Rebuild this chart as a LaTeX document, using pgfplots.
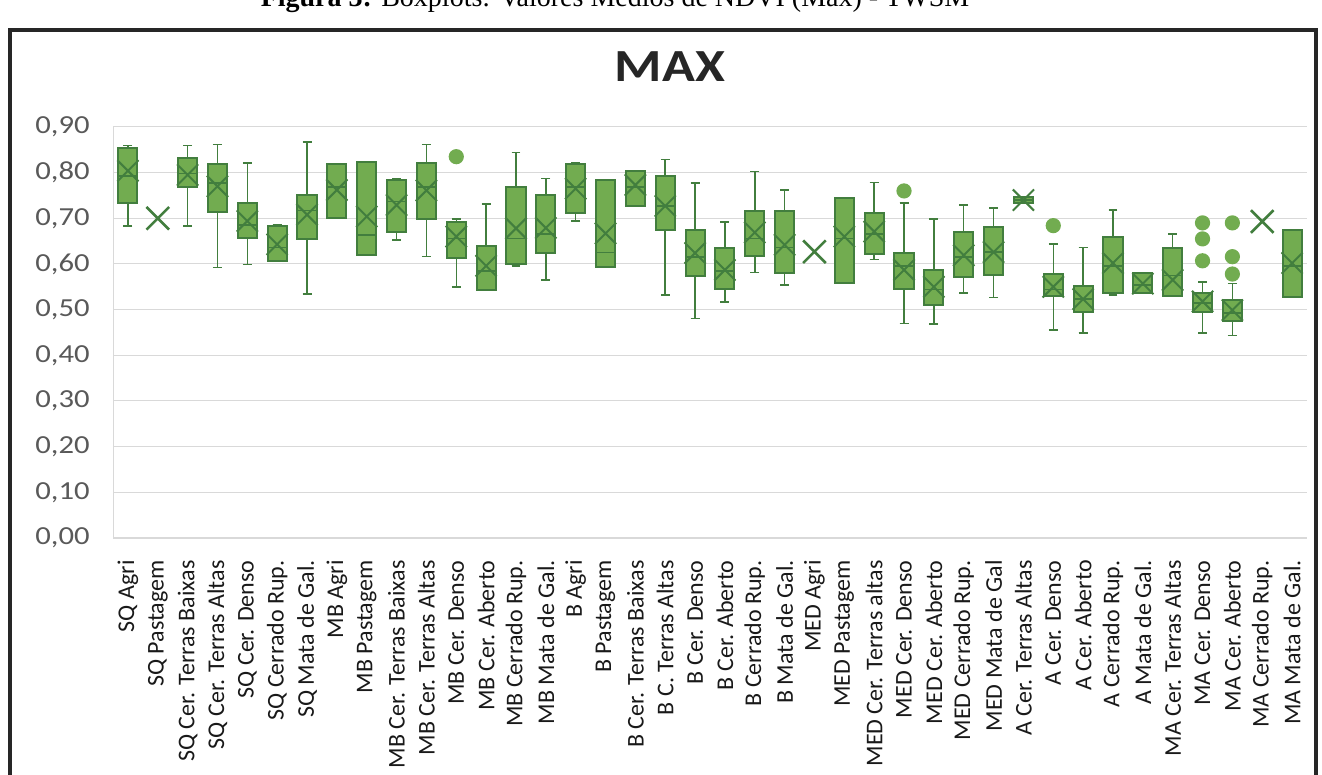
\documentclass[border=0pt]{standalone}
\usepackage{fontspec}
\setmainfont{Carlito}
\newfontfamily\wide[FakeStretch=1.18]{Carlito}
\newfontfamily\capfont{Liberation Serif}
\usepackage{pgfplots}
\pgfplotsset{compat=1.18}
\usepgfplotslibrary{statistics}
\definecolor{bg}{RGB}{114,172,80}
\definecolor{dg}{RGB}{66,126,62}
\definecolor{tickgray}{RGB}{89,89,89}
\pgfplotsset{
  box/.style={draw=dg, fill=bg, line width=1pt, solid, mark=*, mark size=3.3pt,
    mark options={draw=bg, fill=bg},
    boxplot/draw direction=y,
    boxplot/box extend=0.64, boxplot/whisker extend=0.3,
    boxplot/every whisker/.style={line width=0.75pt},
    boxplot/every median/.style={line width=0.8pt},
    boxplot/every average/.style={/tikz/mark=x, /tikz/mark size=7.5pt, /tikz/line width=1.1pt, /tikz/draw=dg}},
}
\begin{document}
\begin{tikzpicture}
\useasboundingbox (0pt,0pt) rectangle (661pt,387.5pt);
\node[anchor=base, font=\capfont\fontsize{14}{14}\selectfont] at (307.5pt,384pt) {\textbf{Figura 3:} Boxplots: Valores Médios de NDVI (Max) - TWSM};
\draw[line width=1.6pt, black!85] (5pt,-10pt) -- (5pt,372.5pt) -- (658pt,372.5pt) -- (658pt,-10pt);
\node[anchor=base, font=\wide\bfseries\fontsize{23}{23}\selectfont, text=black!85] at (335pt,346.5pt) {MAX};
\begin{axis}[
  at={(56.5pt,118.5pt)}, anchor=south west, scale only axis,
  width=597pt, height=205.5pt,
  xmin=-0.5, xmax=39.5, ymin=0, ymax=0.9,
  ytick={0,0.1,0.2,0.3,0.4,0.5,0.6,0.7,0.8,0.9},
  xtick={0,...,39},
  xticklabels={SQ Agri, SQ Pastagem, SQ Cer. Terras Baixas, SQ Cer. Terras Altas, SQ Cer. Denso, SQ Cerrado Rup., SQ Mata de Gal., MB Agri, MB Pastagem, MB Cer. Terras Baixas, MB Cer. Terras Altas, MB Cer. Denso, MB Cer. Aberto, MB Cerrado Rup., MB Mata de Gal., B Agri, B Pastagem, B Cer. Terras Baixas, B C. Terras Altas, B Cer. Denso, B Cer. Aberto, B Cerrado Rup., B Mata de Gal., MED Agri, MED Pastagem, MED Cer. Terras altas, MED Cer. Denso, MED Cer. Aberto, MED Cerrado Rup., MED Mata de Gal, A Cer. Terras Altas, A Cer. Denso, A Cer. Aberto, A Cerrado Rup., A Mata de Gal., MA Cer. Terras Altas, MA Cer. Denso, MA Cer. Aberto, MA Cerrado Rup., MA Mata de Gal.},
  xticklabel style={rotate=90, anchor=east, inner sep=0pt, xshift=-11pt, font=\fontsize{12}{12}\selectfont, text=black!90},
  yticklabel style={anchor=east, inner sep=0pt, xshift=-11.5pt, font=\wide\fontsize{13}{13}\selectfont, text=tickgray,
    /pgf/number format/.cd, fixed, fixed zerofill, precision=2, use comma, assume math mode=true},
  major tick length=0pt,
  axis x line*=bottom, axis y line*=left,
  axis line style={gray!30},
  ymajorgrids, major grid style={gray!30, line width=0.5pt},
  clip=false,
]
\addplot[box, boxplot prepared={draw position=0, lower whisker=0.683, lower quartile=0.733, median=0.793, upper quartile=0.854, upper whisker=0.860, average=0.804}] coordinates {};
\addplot[box, boxplot prepared={draw position=2, lower whisker=0.683, lower quartile=0.768, median=0.798, upper quartile=0.832, upper whisker=0.859, average=0.795}] coordinates {};
\addplot[box, boxplot prepared={draw position=3, lower whisker=0.592, lower quartile=0.713, median=0.778, upper quartile=0.818, upper whisker=0.862, average=0.770}] coordinates {};
\addplot[box, boxplot prepared={draw position=4, lower whisker=0.599, lower quartile=0.658, median=0.686, upper quartile=0.734, upper whisker=0.821, average=0.694}] coordinates {};
\addplot[box, boxplot prepared={draw position=5, lower whisker=0.607, lower quartile=0.607, median=0.636, upper quartile=0.683, upper whisker=0.686, average=0.643}] coordinates {};
\addplot[box, boxplot prepared={draw position=6, lower whisker=0.534, lower quartile=0.655, median=0.717, upper quartile=0.752, upper whisker=0.867, average=0.708}] coordinates {};
\addplot[box, boxplot prepared={draw position=7, lower whisker=0.700, lower quartile=0.700, median=0.768, upper quartile=0.818, upper whisker=0.818, average=0.762}] coordinates {};
\addplot[box, boxplot prepared={draw position=8, lower whisker=0.619, lower quartile=0.619, median=0.664, upper quartile=0.823, upper whisker=0.823, average=0.704}] coordinates {};
\addplot[box, boxplot prepared={draw position=9, lower whisker=0.653, lower quartile=0.670, median=0.737, upper quartile=0.784, upper whisker=0.786, average=0.729}] coordinates {};
\addplot[box, boxplot prepared={draw position=10, lower whisker=0.616, lower quartile=0.699, median=0.768, upper quartile=0.821, upper whisker=0.862, average=0.761}] coordinates {};
\addplot[box, boxplot prepared={draw position=11, lower whisker=0.550, lower quartile=0.614, median=0.656, upper quartile=0.691, upper whisker=0.699, average=0.660}] coordinates {(0,0.835)};
\addplot[box, boxplot prepared={draw position=12, lower whisker=0.542, lower quartile=0.542, median=0.585, upper quartile=0.640, upper whisker=0.731, average=0.596}] coordinates {};
\addplot[box, boxplot prepared={draw position=13, lower whisker=0.596, lower quartile=0.600, median=0.656, upper quartile=0.768, upper whisker=0.844, average=0.678}] coordinates {};
\addplot[box, boxplot prepared={draw position=14, lower whisker=0.565, lower quartile=0.624, median=0.666, upper quartile=0.752, upper whisker=0.787, average=0.679}] coordinates {};
\addplot[box, boxplot prepared={draw position=15, lower whisker=0.694, lower quartile=0.711, median=0.768, upper quartile=0.818, upper whisker=0.821, average=0.765}] coordinates {};
\addplot[box, boxplot prepared={draw position=16, lower whisker=0.594, lower quartile=0.594, median=0.625, upper quartile=0.784, upper whisker=0.784, average=0.667}] coordinates {};
\addplot[box, boxplot prepared={draw position=17, lower whisker=0.726, lower quartile=0.726, median=0.768, upper quartile=0.803, upper whisker=0.803, average=0.773}] coordinates {};
\addplot[box, boxplot prepared={draw position=18, lower whisker=0.532, lower quartile=0.674, median=0.727, upper quartile=0.793, upper whisker=0.829, average=0.727}] coordinates {};
\addplot[box, boxplot prepared={draw position=19, lower whisker=0.481, lower quartile=0.574, median=0.615, upper quartile=0.674, upper whisker=0.777, average=0.624}] coordinates {};
\addplot[box, boxplot prepared={draw position=20, lower whisker=0.517, lower quartile=0.545, median=0.585, upper quartile=0.635, upper whisker=0.692, average=0.587}] coordinates {};
\addplot[box, boxplot prepared={draw position=21, lower whisker=0.581, lower quartile=0.618, median=0.656, upper quartile=0.715, upper whisker=0.803, average=0.669}] coordinates {};
\addplot[box, boxplot prepared={draw position=22, lower whisker=0.554, lower quartile=0.580, median=0.636, upper quartile=0.715, upper whisker=0.762, average=0.642}] coordinates {};
\addplot[box, boxplot prepared={draw position=24, lower whisker=0.559, lower quartile=0.559, median=0.656, upper quartile=0.744, upper whisker=0.744, average=0.660}] coordinates {};
\addplot[box, boxplot prepared={draw position=25, lower whisker=0.610, lower quartile=0.622, median=0.666, upper quartile=0.711, upper whisker=0.778, average=0.671}] coordinates {};
\addplot[box, boxplot prepared={draw position=26, lower whisker=0.470, lower quartile=0.545, median=0.595, upper quartile=0.624, upper whisker=0.734, average=0.587}] coordinates {(0,0.760)};
\addplot[box, boxplot prepared={draw position=27, lower whisker=0.469, lower quartile=0.511, median=0.544, upper quartile=0.587, upper whisker=0.699, average=0.550}] coordinates {};
\addplot[box, boxplot prepared={draw position=28, lower whisker=0.537, lower quartile=0.571, median=0.615, upper quartile=0.669, upper whisker=0.729, average=0.619}] coordinates {};
\addplot[box, boxplot prepared={draw position=29, lower whisker=0.527, lower quartile=0.576, median=0.626, upper quartile=0.680, upper whisker=0.723, average=0.626}] coordinates {};
\addplot[box, boxplot prepared={draw position=30, lower whisker=0.733, lower quartile=0.733, median=0.740, upper quartile=0.747, upper whisker=0.747, average=0.740}] coordinates {};
\addplot[box, boxplot prepared={draw position=31, lower whisker=0.456, lower quartile=0.529, median=0.544, upper quartile=0.579, upper whisker=0.644, average=0.550}] coordinates {(0,0.684)};
\addplot[box, boxplot prepared={draw position=32, lower whisker=0.449, lower quartile=0.495, median=0.524, upper quartile=0.552, upper whisker=0.636, average=0.523}] coordinates {};
\addplot[box, boxplot prepared={draw position=33, lower whisker=0.532, lower quartile=0.536, median=0.595, upper quartile=0.659, upper whisker=0.718, average=0.602}] coordinates {};
\addplot[box, boxplot prepared={draw position=34, lower whisker=0.536, lower quartile=0.536, median=0.554, upper quartile=0.580, upper whisker=0.580, average=0.557}] coordinates {};
\addplot[box, boxplot prepared={draw position=35, lower whisker=0.529, lower quartile=0.529, median=0.575, upper quartile=0.635, upper whisker=0.666, average=0.565}] coordinates {};
\addplot[box, boxplot prepared={draw position=36, lower whisker=0.449, lower quartile=0.495, median=0.514, upper quartile=0.537, upper whisker=0.561, average=0.518}] coordinates {(0,0.690) (0,0.655) (0,0.607)};
\addplot[box, boxplot prepared={draw position=37, lower whisker=0.443, lower quartile=0.476, median=0.493, upper quartile=0.522, upper whisker=0.557, average=0.499}] coordinates {(0,0.690) (0,0.616) (0,0.578)};
\addplot[box, boxplot prepared={draw position=39, lower whisker=0.527, lower quartile=0.527, median=0.595, upper quartile=0.674, upper whisker=0.674, average=0.602}] coordinates {};
\addplot[only marks, mark=x, mark size=8pt, draw=dg, line width=1.3pt] coordinates {(1,0.700) (23,0.627) (38,0.693)};
\end{axis}
\end{tikzpicture}
\end{document}
